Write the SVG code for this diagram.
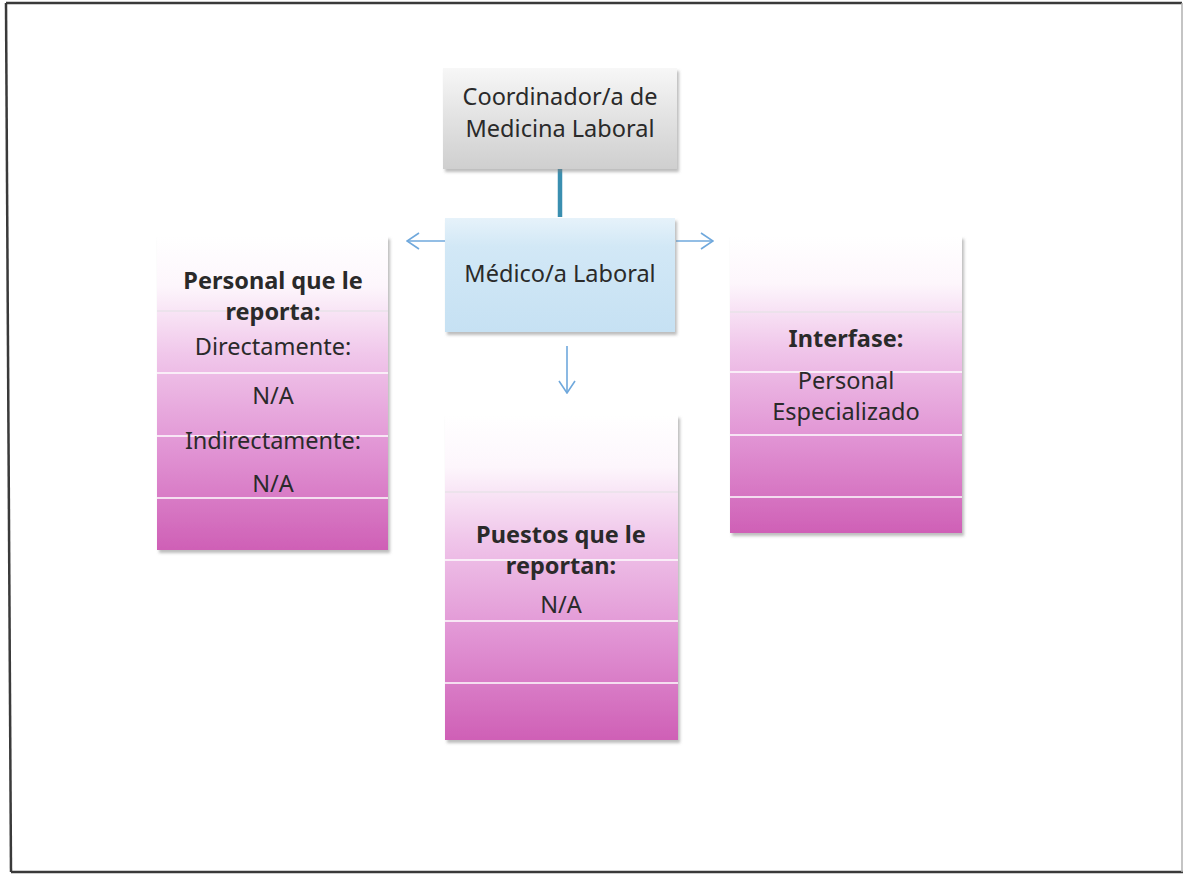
<svg xmlns="http://www.w3.org/2000/svg" width="1185" height="875" viewBox="0 0 1185 875">
<style>
  text { font-family: "Noto Sans", "Open Sans", "Liberation Sans", sans-serif; font-size: 23.5px; fill: #2a2a2a; text-anchor: middle; }
  .b { font-weight: bold; }
  .sep { stroke: #ffffff; stroke-width: 2; opacity: 0.75; }
  .sep0 { stroke: #e8e2e8; stroke-width: 1.5; }
  .arrow { stroke: #6fa8dc; stroke-width: 1.6; fill: none; marker-end: url(#arr); }
  .frame { stroke: #3a3a3a; stroke-width: 2.5; fill: none; }
</style>
<defs>
  <linearGradient id="gGrey" x1="0" y1="0" x2="0" y2="1">
    <stop offset="0" stop-color="#f7f7f7"/>
    <stop offset="0.5" stop-color="#e2e2e2"/>
    <stop offset="1" stop-color="#cfcfcf"/>
  </linearGradient>
  <linearGradient id="gBlue" x1="0" y1="0" x2="0" y2="1">
    <stop offset="0" stop-color="#e6f2fa"/>
    <stop offset="0.25" stop-color="#d2e8f6"/>
    <stop offset="1" stop-color="#c6e1f3"/>
  </linearGradient>
  <linearGradient id="gPink" x1="0" y1="0" x2="0" y2="1">
    <stop offset="0" stop-color="#ffffff"/>
    <stop offset="0.16" stop-color="#fdf6fc"/>
    <stop offset="0.38" stop-color="#f0c6ea"/>
    <stop offset="0.68" stop-color="#e194d4"/>
    <stop offset="1" stop-color="#cf60b6"/>
  </linearGradient>
  <filter id="sh" x="-5%" y="-5%" width="115%" height="115%">
    <feDropShadow dx="2" dy="3" stdDeviation="1.5" flood-color="#7a7a7a" flood-opacity="0.5"/>
  </filter>
  <marker id="arr" viewBox="0 0 14 18" refX="13" refY="9" markerWidth="14" markerHeight="18" orient="auto" markerUnits="userSpaceOnUse">
    <path d="M1,1 L13,9 L1,17" fill="none" stroke="#6fa8dc" stroke-width="1.6"/>
  </marker>
</defs>

<rect x="0" y="0" width="1185" height="875" fill="#ffffff"/>
<g id="frame">
  <path class="frame" d="M6,3 L1182,3"/>
  <path class="frame" d="M6,3 L11,872"/>
  <path class="frame" d="M11,872 L1183,872"/>
  <path d="M1182,3 L1182,872" stroke="#b0b0b0" stroke-width="1.5"/>
</g>

<g id="connectors">
  <line x1="560" y1="169" x2="560" y2="217" stroke="#3a8fb0" stroke-width="4.5"/>
  <line class="arrow" x1="445" y1="241" x2="407" y2="241"/>
  <line class="arrow" x1="676" y1="241" x2="713" y2="241"/>
  <line class="arrow" x1="567" y1="346" x2="567" y2="393"/>
</g>

<g id="coordinador">
  <rect x="443" y="68" width="234" height="101" fill="url(#gGrey)" filter="url(#sh)"/>
  <text x="560" y="105">Coordinador/a de</text>
  <text x="560" y="137">Medicina Laboral</text>
</g>

<g id="medico">
  <rect x="445" y="218" width="230" height="114" fill="url(#gBlue)" filter="url(#sh)"/>
  <text x="560" y="282">Médico/a Laboral</text>
</g>

<g id="personal">
  <rect x="157" y="236" width="231" height="314" fill="url(#gPink)" filter="url(#sh)"/>
  <line class="sep0" x1="157" y1="311" x2="388" y2="311"/>
  <line class="sep" x1="157" y1="373" x2="388" y2="373"/>
  <line class="sep" x1="157" y1="436" x2="388" y2="436"/>
  <line class="sep" x1="157" y1="498" x2="388" y2="498"/>
  <text class="b" x="273" y="289">Personal que le</text>
  <text class="b" x="273" y="320">reporta:</text>
  <text x="273" y="355">Directamente:</text>
  <text x="273" y="404">N/A</text>
  <text x="273" y="449">Indirectamente:</text>
  <text x="273" y="492">N/A</text>
</g>

<g id="interfase">
  <rect x="730" y="236" width="232" height="297" fill="url(#gPink)" filter="url(#sh)"/>
  <line class="sep0" x1="730" y1="312" x2="962" y2="312"/>
  <line class="sep" x1="730" y1="372" x2="962" y2="372"/>
  <line class="sep" x1="730" y1="435" x2="962" y2="435"/>
  <line class="sep" x1="730" y1="497" x2="962" y2="497"/>
  <text class="b" x="846" y="347">Interfase:</text>
  <text x="846" y="389">Personal</text>
  <text x="846" y="420">Especializado</text>
</g>

<g id="puestos">
  <rect x="445" y="415" width="233" height="325" fill="url(#gPink)" filter="url(#sh)"/>
  <line class="sep0" x1="445" y1="492" x2="678" y2="492"/>
  <line class="sep" x1="445" y1="560" x2="678" y2="560"/>
  <line class="sep" x1="445" y1="621" x2="678" y2="621"/>
  <line class="sep" x1="445" y1="683" x2="678" y2="683"/>
  <text class="b" x="561" y="543">Puestos que le</text>
  <text class="b" x="561" y="574">reportan:</text>
  <text x="561" y="613">N/A</text>
</g>
</svg>
